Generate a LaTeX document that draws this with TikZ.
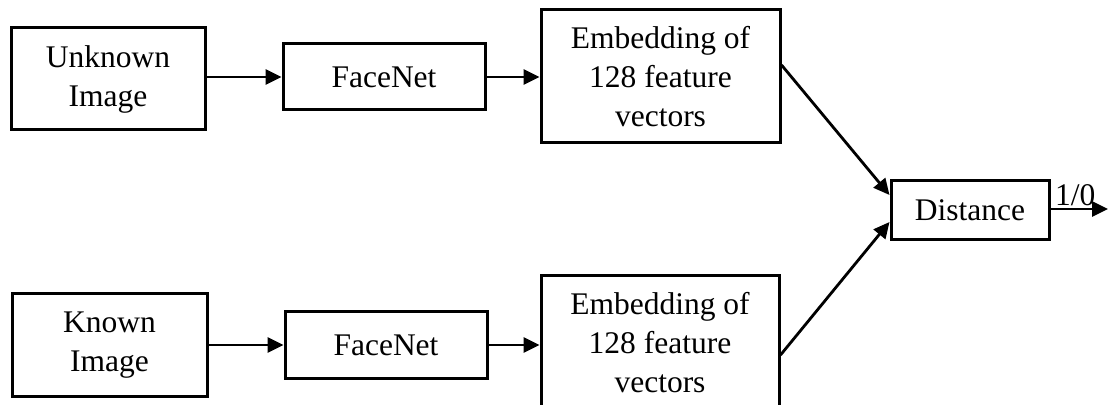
\documentclass[tikz,border=0pt]{standalone}
\usepackage{fontspec}
\setmainfont{Liberation Serif}
\usetikzlibrary{arrows.meta}

\tikzset{
  blk/.style={draw, rectangle, line width=1.5pt, inner sep=0pt, align=center,
    font=\fontsize{15.75}{19.5}\selectfont},
}

\begin{document}
\begin{tikzpicture}[x=0.5pt, y=-0.5pt, line width=1.4pt, >={Triangle[length=8pt,width=7.5pt]}]
\useasboundingbox (0,0) rectangle (1112,405);
\clip (0,0) rectangle (1112,405);

% upper branch
\node[blk, minimum width=97pt, minimum height=51pt] (unk) at (108,79) {Unknown\\Image};
\node[blk, minimum width=101pt, minimum height=33pt] (fn1) at (384,77) {FaceNet};
\node[blk, minimum width=119.5pt, minimum height=66.5pt] (emb1) at (660.5,76.5) {Embedding of\\128 feature\\vectors};

% lower branch
\node[blk, minimum width=97.5pt, minimum height=51pt] (kn) at (109.5,345) {Known\\Image};
\node[blk, minimum width=101pt, minimum height=33pt] (fn2) at (386,345) {FaceNet};
\node[blk, minimum width=119pt, minimum height=66.5pt] (emb2) at (660,342.5) {Embedding of\\128 feature\\vectors};

\node[blk, minimum width=79pt, minimum height=29.5pt] (dist) at (970,210.5) {Distance};
\coordinate (out) at (1108,209);

\draw[->] (fn1.west -| unk.east) -- (fn1.west);
\draw[->] (fn1.east) -- (emb1.west |- fn1.east);
\draw[->] (kn.east |- fn2.west) -- (fn2.west);
\draw[->] (fn2.east) -- (emb2.west |- fn2.east);
\draw[->] ([yshift=5.75pt]emb1.east) -- ([yshift=7.75pt]dist.west);
\draw[->] ([yshift=-6.25pt]emb2.east) -- ([yshift=-5.75pt]dist.west);
\draw[->] (dist.east |- out) -- (out) node[midway, above, inner sep=1pt, xshift=-2pt, font=\fontsize{15.75}{19.5}\selectfont] {1/0};

\end{tikzpicture}
\end{document}
